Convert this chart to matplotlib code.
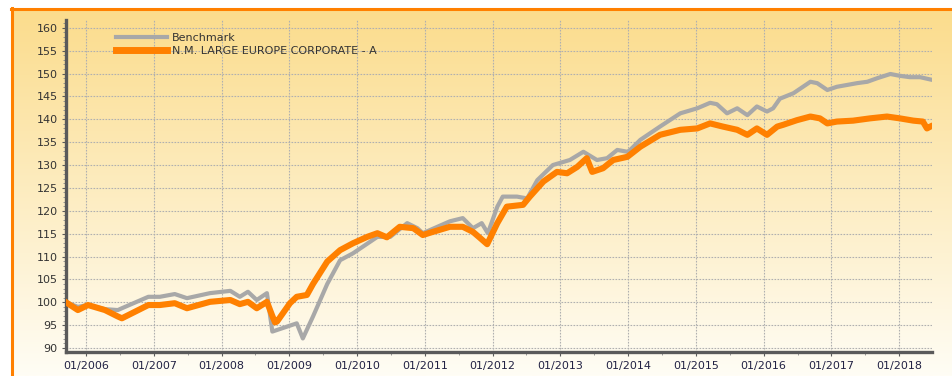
import numpy as np
import matplotlib.pyplot as plt
from matplotlib.ticker import MultipleLocator, FixedLocator, FuncFormatter
from matplotlib.lines import Line2D

# Benchmark (decimal year, value)
bench_t = [2005.705, 2005.88, 2006.03, 2006.28, 2006.47, 2006.53, 2006.92, 2007.09,
           2007.31, 2007.49, 2007.83, 2008.13, 2008.27, 2008.39, 2008.52, 2008.67,
           2008.75, 2008.97, 2009.11, 2009.20, 2009.35, 2009.56, 2009.75, 2009.94,
           2010.09, 2010.30, 2010.49, 2010.74, 2010.89, 2010.97, 2011.37, 2011.56,
           2011.71, 2011.84, 2011.93, 2012.07, 2012.15, 2012.36, 2012.51, 2012.66,
           2012.89, 2013.14, 2013.34, 2013.54, 2013.69, 2013.84, 2013.99, 2014.03,
           2014.18, 2014.47, 2014.77, 2015.02, 2015.21, 2015.31, 2015.46, 2015.61,
           2015.76, 2015.90, 2016.05, 2016.14, 2016.24, 2016.44, 2016.69, 2016.79,
           2016.94, 2017.08, 2017.23, 2017.38, 2017.53, 2017.68, 2017.87, 2018.01,
           2018.16, 2018.31, 2018.46]
bench_v = [100.0, 99.0, 99.4, 98.5, 98.3, 98.7, 101.2, 101.2,
           101.8, 100.9, 102.0, 102.5, 101.2, 102.3, 100.5, 102.0,
           93.6, 94.7, 95.4, 92.1, 96.9, 104.0, 109.2, 110.7,
           112.2, 114.3, 114.3, 117.3, 116.2, 115.1, 117.7, 118.4,
           116.2, 117.3, 115.1, 120.9, 123.1, 123.1, 122.7, 126.7,
           130.0, 131.1, 132.9, 131.1, 131.5, 133.3, 132.9, 133.3,
           135.5, 138.4, 141.3, 142.4, 143.6, 143.3, 141.3, 142.4,
           140.9, 142.8, 141.7, 142.4, 144.5, 145.7, 148.2, 147.9,
           146.4, 147.1, 147.5, 147.9, 148.2, 149.0, 149.9, 149.5,
           149.2, 149.2, 148.7]

# N.M. Large Europe Corporate - A
fund_t = [2005.705, 2005.88, 2006.03, 2006.28, 2006.47, 2006.53, 2006.92, 2007.09,
          2007.31, 2007.49, 2007.83, 2008.13, 2008.27, 2008.39, 2008.52, 2008.67,
          2008.75, 2008.79, 2008.82, 2009.01, 2009.11, 2009.26, 2009.35, 2009.56,
          2009.75, 2009.94, 2010.15, 2010.30, 2010.44, 2010.63, 2010.83, 2010.97,
          2011.12, 2011.37, 2011.56, 2011.71, 2011.82, 2011.92, 2012.07, 2012.21,
          2012.45, 2012.55, 2012.75, 2012.95, 2013.10, 2013.25, 2013.39, 2013.47,
          2013.63, 2013.78, 2013.99, 2014.18, 2014.47, 2014.77, 2015.02, 2015.21,
          2015.40, 2015.61, 2015.76, 2015.90, 2016.05, 2016.20, 2016.29, 2016.49,
          2016.69, 2016.83, 2016.94, 2017.08, 2017.32, 2017.57, 2017.82, 2018.01,
          2018.21, 2018.35, 2018.41, 2018.46]
fund_v = [100.0, 98.3, 99.4, 98.3, 96.9, 96.5, 99.4, 99.4,
          99.8, 98.7, 100.1, 100.5, 99.6, 100.1, 98.7, 100.1,
          97.0, 95.6, 95.8, 99.8, 101.2, 101.6, 104.0, 108.9,
          111.4, 112.9, 114.3, 115.1, 114.2, 116.5, 116.2, 114.7,
          115.4, 116.5, 116.5, 115.4, 114.0, 112.7, 117.3, 120.9,
          121.3, 123.1, 126.4, 128.5, 128.2, 129.6, 131.5, 128.5,
          129.3, 131.1, 131.8, 134.0, 136.6, 137.7, 138.0, 139.1,
          138.4, 137.7, 136.6, 138.0, 136.6, 138.4, 138.8, 139.8,
          140.6, 140.2, 139.1, 139.5, 139.7, 140.2, 140.6, 140.2,
          139.7, 139.5, 138.0, 138.4]

years = list(range(2006, 2019))
labels = ['Benchmark', 'N.M. LARGE EUROPE CORPORATE - A']

W, H = 952, 376
fig = plt.figure(figsize=(W / 100, H / 100), dpi=100)
fig.patch.set_facecolor('white')

# panel background: vertical gradient with orange border on left and top
bg = fig.add_axes([11 / W, 0, 1 - 11 / W, 1 - 8 / H])
grad = np.linspace(0, 1, 256).reshape(-1, 1)
top = np.array([251, 220, 140]) / 255
bot = np.array([255, 253, 245]) / 255
img = top[None, None, :] * (1 - grad[:, :, None]) + bot[None, None, :] * grad[:, :, None]
bg.imshow(img, aspect='auto', extent=[0, 1, 0, 1])
bg.set_xlim(0, 1)
bg.set_ylim(0, 1)
bg.axis('off')
bg.plot([0.001, 0.001], [0, 1], color='#ff8000', lw=2.2, clip_on=False)
bg.plot([0, 1], [0.997, 0.997], color='#ff8000', lw=2.2, clip_on=False)

ax = fig.add_axes([66 / W, 1 - 351.7 / H, (931.7 - 66) / W, (351.7 - 20) / H])
ax.set_facecolor('none')

ax.plot(bench_t, bench_v, color='#a8a8a8', lw=3.0, solid_joinstyle='round', zorder=3)
ax.plot(fund_t, fund_v, color='#ff8000', lw=4.4, solid_joinstyle='round', zorder=4)

ax.set_xlim(2005.705, 2018.48)
ax.set_ylim(89.2, 161.7)

ax.yaxis.set_major_locator(MultipleLocator(5))
ax.yaxis.set_minor_locator(MultipleLocator(1))
ax.xaxis.set_major_locator(FixedLocator(years))
ax.xaxis.set_minor_locator(MultipleLocator(0.5))
ax.xaxis.set_major_formatter(FuncFormatter(lambda v, p: '01/%d' % int(round(v))))
ax.set_yticks(np.arange(90, 161, 5))

ax.grid(True, which='major', color='#b0b0b0', linestyle=(0, (1.5, 1.2)), linewidth=0.8)
ax.set_axisbelow(True)

for s in ['top', 'right']:
    ax.spines[s].set_visible(False)
for s in ['left', 'bottom']:
    ax.spines[s].set_color('#5a5a5a')
    ax.spines[s].set_linewidth(2.4)

ax.tick_params(axis='both', which='major', labelsize=8, colors='#5a5a5a', length=3, width=0.8)
ax.tick_params(axis='both', which='minor', colors='#8a8a8a', length=2, width=0.6)
ax.tick_params(axis='y', labelcolor='#333333', pad=3)
ax.tick_params(axis='x', labelcolor='#222244', pad=4)

handles = [Line2D([], [], color='#a8a8a8', lw=3.0),
           Line2D([], [], color='#ff8000', lw=5.0)]
leg = ax.legend(handles, labels, loc='upper left', bbox_to_anchor=(0.053, 0.975),
                frameon=False, fontsize=8, handlelength=4.6, handletextpad=0.4,
                labelspacing=0.25, borderaxespad=0)
for t in leg.get_texts():
    t.set_color('#333333')

fig.savefig('out.png', dpi=100)
